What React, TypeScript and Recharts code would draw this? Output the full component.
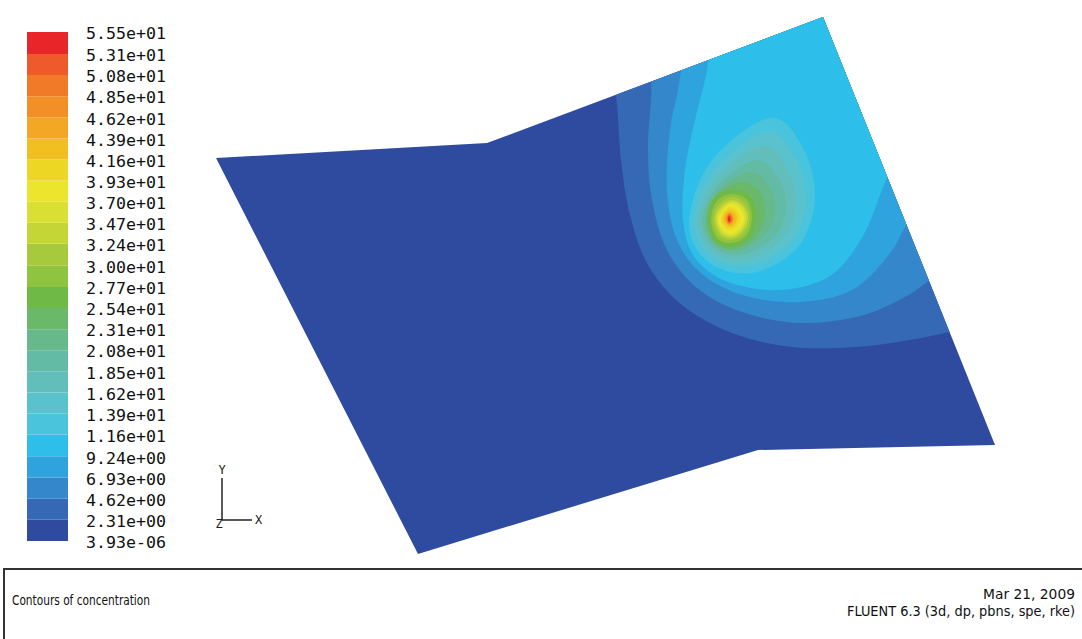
import { Bar, BarChart, ComposedChart, Scatter, XAxis, YAxis } from "recharts"

// contour levels (bottom -> top) and their legend labels
const levels = [3.93e-6, 2.31, 4.62, 6.93, 9.24, 11.6, 13.9, 16.2, 18.5, 20.8, 23.1, 25.4, 27.7, 30.0, 32.4, 34.7, 37.0, 39.3, 41.6, 43.9, 46.2, 48.5, 50.8, 53.1, 55.5]
const levelLabels = [
  "3.93e-06", "2.31e+00", "4.62e+00", "6.93e+00", "9.24e+00", "1.16e+01", "1.39e+01", "1.62e+01", "1.85e+01",
  "2.08e+01", "2.31e+01", "2.54e+01", "2.77e+01", "3.00e+01", "3.24e+01", "3.47e+01", "3.70e+01", "3.93e+01",
  "4.16e+01", "4.39e+01", "4.62e+01", "4.85e+01", "5.08e+01", "5.31e+01", "5.55e+01",
]
const bandColors = [
  "#2e4ba0", "#3569b6", "#3587cb", "#2fa3dd", "#2dbfe9", "#4ac3dc", "#5ac2cd", "#62bebb",
  "#63bba5", "#67b98c", "#6ab86a", "#6fb946", "#8ec43f", "#a6ca3b", "#c3d636", "#d9e033",
  "#ebe52d", "#eed624", "#f1bf22", "#f2a824", "#f29027", "#f07a28", "#ee5a2a", "#e8262a",
]

// surface outline in view units (x right, y down)
const surface = [[216, 158], [487, 143], [823, 17], [995, 445], [758, 450], [418, 554]]

// contour lines; open ones run past the surface edge and get clipped
const c231 = [[640, 5], [606, 40], [616, 95], [621, 160], [630, 215], [648, 265], [682, 305], [732, 333], [792, 347], [855, 347], [910, 340], [950, 332], [990, 325], [1070, 310], [1070, 5]]
const c462 = [[680, 5], [655, 40], [651, 100], [648, 150], [652, 200], [667, 250], [697, 288], [742, 312], [800, 323], [860, 316], [905, 297], [930, 280], [960, 260], [1070, 220], [1070, 5]]
const c693 = [[700, 5], [688, 30], [678, 90], [670, 130], [667, 190], [677, 240], [703, 275], [746, 296], [800, 302], [852, 290], [888, 256], [908, 222], [930, 190], [1070, 150], [1070, 5]]
const c924 = [[730, 5], [716, 25], [705, 80], [695, 120], [685, 170], [683, 220], [695, 258], [728, 282], [780, 290], [830, 276], [863, 236], [884, 185], [900, 150], [940, 100], [1070, 60], [1070, 5]]
const c116 = [[770, 118], [803, 148], [815, 200], [797, 248], [752, 273], [708, 262], [689, 222], [712, 160]]
const c139 = [[766, 132], [795, 158], [806, 202], [790, 244], [748, 266], [710, 256], [694, 221], [714, 170]]
const c162 = [[761, 146], [787, 168], [796, 205], [782, 240], [745, 260], [712, 251], [698, 220], [716, 179]]
const c185 = [[755, 160], [778, 178], [786, 208], [774, 237], [741, 255], [713, 247], [702, 219], [717, 187]]
const c208 = [[749, 172], [769, 186], [775, 211], [765, 235], [738, 251], [714, 244], [705, 219], [717, 192]]
const c231b = [[742, 182], [760, 192], [765, 214], [757, 235], [735, 249], [714, 242], [707, 219], [716, 195]]
const c254 = [[733, 190], [750, 196], [756, 218], [749, 238], [731, 247], [714, 240], [708, 218], [714, 198]]
const c277 = [[732, 194], [747, 200], [752, 218], [746, 236], [731, 243], [716, 237], [711, 218], [717, 201]]
const c300 = [[732, 197], [745, 203], [750, 218], [744, 234], [731, 240], [718, 235], [713, 218], [719, 204]]
const c324 = [[732, 200], [743, 205], [748, 218], [742, 232], [731, 238], [720, 233], [715, 218], [721, 206]]
const c347 = [[732, 202], [742, 207], [746, 218], [741, 230], [731, 236], [721, 231], [717, 218], [722, 208]]
const c370 = [[731, 204], [740, 209], [744, 219], [739, 229], [731, 234], [722, 229], [718, 219], [723, 210]]
const c393 = [[730, 207], [737, 211], [740, 219], [736, 227], [730, 230], [724, 227], [721, 219], [724, 212]]
const c416 = [[730, 210], [735, 213], [737, 219], [734, 225], [729, 227], [725, 224], [723, 219], [725, 213]]
const c439 = [[730, 212], [733, 215], [734, 220], [732, 224], [729, 225], [726, 222], [725, 218], [727, 214]]
const c462b = [[730, 213], [732, 216], [733, 220], [731, 223], [729, 224], [727, 221], [726, 218], [728, 215]]
const c485 = [[730, 214], [732, 217], [732, 221], [730, 223], [728, 223], [727, 220], [727, 217], [728, 215]]
const c508 = [[729, 215], [731, 217], [731, 221], [729, 222], [728, 221], [728, 218]]
const c531 = [[729, 216], [730, 218], [730, 221], [729, 222], [728, 219]]

const contourLines = [c231, c462, c693, c924, c116, c139, c162, c185, c208, c231b, c254, c277, c300, c324, c347, c370, c393, c416, c439, c462b, c485, c508, c531]

const toPts = (arr: number[][]) => arr.map(([x, y]) => ({ x, y }))

const polyPath = (pts: any[]) => pts.map((p, i) => `${i ? "L" : "M"}${p.x},${p.y}`).join(" ") + "Z"

// closed catmull-rom through the contour points
const smoothPath = (pts: any[]) => {
  const n = pts.length
  let d = `M${pts[0].x},${pts[0].y}`
  for (let i = 0; i < n; i++) {
    const p0 = pts[(i - 1 + n) % n]
    const p1 = pts[i]
    const p2 = pts[(i + 1) % n]
    const p3 = pts[(i + 2) % n]
    d += ` C${p1.x + (p2.x - p0.x) / 6},${p1.y + (p2.y - p0.y) / 6} ${p2.x - (p3.x - p1.x) / 6},${p2.y - (p3.y - p1.y) / 6} ${p2.x},${p2.y}`
  }
  return d + "Z"
}

const noDot = () => <g />

const legendRow = [{ name: "bar", ...Object.fromEntries(bandColors.map((_, i) => [`b${i}`, levels[i + 1] - (i === 0 ? 0 : levels[i])])) }]

const mono = "'DejaVu Sans Mono', 'Liberation Mono', monospace"

function LegendTick(props: any) {
  const idx = levels.indexOf(props.payload.value)
  return (
    <text x={props.x} y={props.y + 2} dy="0.35em" fontFamily={mono} fontSize={15} fill="#111" textLength={80} lengthAdjust="spacingAndGlyphs">
      {levelLabels[idx]}
    </text>
  )
}

export default function App() {
  return (
    <div style={{ position: "absolute", left: 0, top: 0, width: 1082, height: 639, background: "#fff", overflow: "hidden" }}>
      <div style={{ position: "absolute", left: 0, top: 0 }}>
        <ComposedChart width={1082} height={639} margin={{ top: 0, right: 0, bottom: 0, left: 0 }}>
          <XAxis type="number" dataKey="x" domain={[0, 1082]} hide />
          <YAxis type="number" dataKey="y" domain={[0, 639]} reversed hide />
          <Scatter
            data={toPts(surface)}
            isAnimationActive={false}
            shape={noDot}
            line={(p: any) => (
              <g>
                <defs>
                  <clipPath id="surf">
                    <path d={polyPath(p.points)} />
                  </clipPath>
                </defs>
                <path d={polyPath(p.points)} fill={bandColors[0]} />
              </g>
            )}
          />
          {contourLines.map((c, k) => (
            <Scatter
              key={k}
              data={toPts(c)}
              isAnimationActive={false}
              shape={noDot}
              line={(p: any) => <path d={smoothPath(p.points)} fill={bandColors[k + 1]} stroke="none" clipPath="url(#surf)" />}
            />
          ))}
        </ComposedChart>
      </div>

      <div style={{ position: "absolute", left: 0, top: 0 }}>
        <BarChart width={178} height={560} data={legendRow} margin={{ top: 32, right: 0, bottom: 19, left: 27 }} barCategoryGap={0} barGap={0}>
          <XAxis dataKey="name" type="category" hide />
          <YAxis
            orientation="right"
            type="number"
            domain={[0, 55.5]}
            ticks={levels}
            interval={0}
            width={110}
            axisLine={false}
            tickLine={false}
            tickSize={0}
            tickMargin={18}
            tick={<LegendTick />}
          />
          {bandColors.map((c, i) => (
            <Bar key={i} dataKey={`b${i}`} stackId="s" fill={c} isAnimationActive={false} />
          ))}
        </BarChart>
      </div>

      <svg width={1082} height={639} style={{ position: "absolute", left: 0, top: 0 }}>
        <g stroke="#222" strokeWidth={1.5}>
          <line x1={222} y1={478} x2={222} y2={520} />
          <line x1={222} y1={520} x2={252} y2={520} />
        </g>
        <g fontFamily={mono} fontSize={12} fill="#222">
          <text x={222} y={474} textAnchor="middle">Y</text>
          <text x={255} y={524}>X</text>
          <text x={219} y={528} textAnchor="middle">Z</text>
        </g>
        <rect x={4} y={569} width={1100} height={100} fill="none" stroke="#333" strokeWidth={2} />
        <g fontFamily="'DejaVu Sans Condensed', 'Liberation Sans Narrow', sans-serif" fontSize={14} fill="#111">
          <text x={12} y={605} textLength={138} lengthAdjust="spacingAndGlyphs">Contours of concentration</text>
          <text x={1075} y={599} textAnchor="end" textLength={92} lengthAdjust="spacingAndGlyphs">Mar 21, 2009</text>
          <text x={1075} y={616} textAnchor="end" textLength={228} lengthAdjust="spacingAndGlyphs">FLUENT 6.3 (3d, dp, pbns, spe, rke)</text>
        </g>
      </svg>
    </div>
  )
}
